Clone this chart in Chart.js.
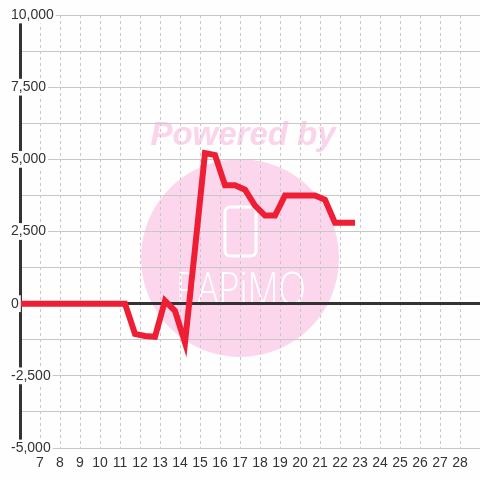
<!DOCTYPE html>
<html lang="en">
<head>
  <meta charset="UTF-8">
  <title>Chart</title>
  <script src="https://cdn.jsdelivr.net/npm/chart.js"></script>
  <style>
    html, body {
      margin: 0;
      padding: 0;
      background: #fdfefd;
    }
    .wrap {
      width: 480px;
      height: 480px;
    }
  </style>
</head>
<body>
  <div class="wrap"><canvas id="chart"></canvas></div>

  <script>
    // data: half-day points
    const xValues = [5.75, 6.25, 6.75, 7.25, 7.75, 8.25, 8.75, 9.25, 9.75, 10.25, 10.75, 11.25,
      11.75, 12.25, 12.75, 13.25, 13.75, 14.25, 14.75, 15.25, 15.75, 16.25, 16.75, 17.25,
      17.75, 18.25, 18.75, 19.25, 19.75, 20.25, 20.75, 21.25, 21.75, 22.25, 22.75];
    const yValues = [0, 0, 0, 0, 0, 0, 0, 0, 0, 0, 0, 0,
      -1050, -1120, -1150, 100, -250, -1350, 1900, 5220, 5150, 4100, 4100, 3950,
      3400, 3050, 3050, 3750, 3750, 3750, 3750, 3600, 2800, 2800, 2800];
    const xTickLabels = [7, 8, 9, 10, 11, 12, 13, 14, 15, 16, 17, 18, 19, 20, 21, 22, 23, 24, 25, 26, 27, 28];
    const yTickLabels = [-5000, -2500, 0, 2500, 5000, 7500, 10000];

    const BG = '#fdfefd';
    const FONT = "'Liberation Sans', Arial, sans-serif";

    // watermark behind the grid
    const watermark = {
      id: 'watermark',
      beforeDraw(chart) {
        const c = chart.ctx;
        c.save();
        c.fillStyle = BG;
        c.fillRect(0, 0, chart.width, chart.height);

        c.fillStyle = '#fcd6ec';
        c.beginPath();
        c.arc(240, 258, 99, 0, Math.PI * 2);
        c.fill();

        c.fillStyle = '#fbd3ea';
        c.font = "italic bold 33px " + FONT;
        c.textAlign = 'center';
        c.textBaseline = 'alphabetic';
        c.fillText('Powered by', 243, 145);

        c.strokeStyle = '#ffffff';
        c.lineWidth = 3;
        c.beginPath();
        c.roundRect(225, 207, 31, 49, 5);
        c.stroke();

        // condensed logo text
        c.fillStyle = '#ffffff';
        c.font = "300 46px 'Open Sans', sans-serif";
        c.translate(241, 305);
        c.scale(0.78, 1);
        c.fillText('PAPiMO', 0, 0);
        c.restore();
      }
    };

    const ctx = document.getElementById('chart').getContext('2d');
    new Chart(ctx, {
      type: 'line',
      data: {
        datasets: [{
          data: xValues.map((x, i) => ({ x: x, y: yValues[i] })),
          borderColor: '#ee1f35',
          borderWidth: 6,
          pointRadius: 0,
          tension: 0,
          fill: false,
          clip: 3
        }]
      },
      plugins: [watermark],
      options: {
        responsive: true,
        maintainAspectRatio: false,
        animation: false,
        layout: { padding: { top: 15, right: 0, bottom: 0, left: 0 } },
        plugins: {
          legend: { display: false },
          tooltip: { enabled: false }
        },
        scales: {
          x: {
            type: 'linear',
            min: 6,
            max: 29,
            afterFit(scale) {
              scale.height = 32;
              scale.paddingRight = 0;
              scale.paddingLeft = 0;
            },
            ticks: {
              stepSize: 1,
              autoSkip: false,
              maxRotation: 0,
              padding: 7,
              color: '#333',
              font: { family: FONT, size: 14 },
              callback: v => xTickLabels.includes(v) ? String(v) : ''
            },
            grid: {
              color: '#c8c8c8',
              lineWidth: 1,
              drawTicks: false
            },
            border: { display: false, dash: [3, 3] }
          },
          y: {
            min: -5000,
            max: 10000,
            afterFit(scale) { scale.width = 20; },
            ticks: {
              stepSize: 1250,
              mirror: true,
              padding: -9,
              z: 1,
              color: '#333',
              font: { family: FONT, size: 14 },
              showLabelBackdrop: true,
              backdropColor: c => yTickLabels.includes(c.tick.value) ? BG : 'rgba(0,0,0,0)',
              backdropPadding: { top: 0, bottom: 0, left: 2, right: 2 },
              callback: v => yTickLabels.includes(v) ? v.toLocaleString('en-US') : ''
            },
            grid: {
              color: c => c.tick.value === 0 ? '#333' : '#c8c8c8',
              lineWidth: c => c.tick.value === 0 ? 3 : 1,
              drawTicks: false
            },
            border: { color: '#333', width: 3 }
          }
        }
      }
    });
  </script>
</body>
</html>
